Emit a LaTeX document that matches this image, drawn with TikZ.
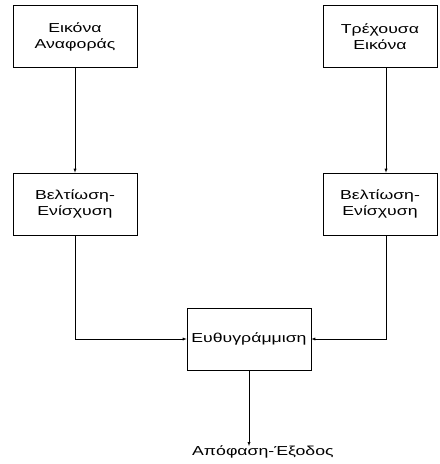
\documentclass[tikz,border=0pt]{standalone}
\usepackage{fontspec}
\setmainfont{Liberation Sans}[FakeStretch=1.36]
\begin{document}
\begin{tikzpicture}[x=1bp,y=-1bp]
	\tikzset{block/.style={rectangle,draw,line width=0.6pt,minimum width=124bp,minimum height=62bp,inner sep=1pt,align=center,font=\fontsize{13bp}{16bp}\selectfont}}
	\useasboundingbox (0,0) rectangle (440,464);

	\node (ref) [block] at (75,36.5) {Εικόνα\\Αναφοράς};
	\node (cur) [block,minimum width=114bp] at (380,36.5) {Τρέχουσα\\Εικόνα};

	\node (enhl) [block] at (75,204) {Βελτίωση-\\Ενίσχυση};
	\node (enhr) [block,minimum width=114bp] at (380,204) {Βελτίωση-\\Ενίσχυση};

	\node (align) [block] at (249,339) {Ευθυγράμμιση};
	\node (out) [font=\fontsize{13bp}{16bp}\selectfont,inner sep=0pt,anchor=north west] at (192,446) {Απόφαση-Έξοδος};

	\draw[-latex] (ref) -- (enhl);
	\draw[-latex] (cur.south -| 386,0) -- (enhr.north -| 386,0);
	\draw[-latex] (enhl) |- (align);
	\draw[-latex] (enhr.south -| 386,0) |- (align);
	\draw[-latex] (align) -- (align.south |- out.north);

\end{tikzpicture}
\end{document}
